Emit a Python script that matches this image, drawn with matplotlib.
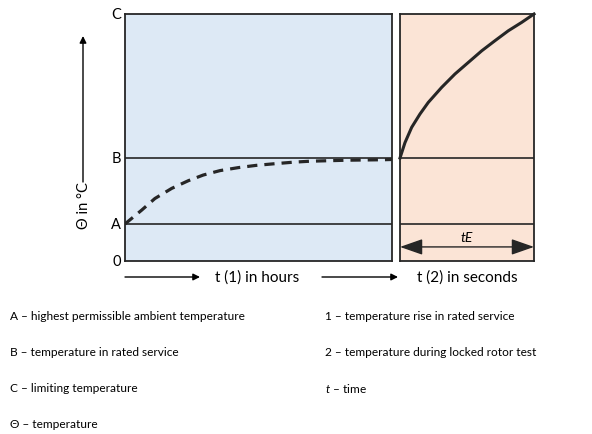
import matplotlib.pyplot as plt

# Temperature levels (relative scale, C = 100)
levels = {"0": 0, "A": 15, "B": 41.7, "C": 100}

# curve 1: temperature rise in rated service (fraction of hours axis)
t1 = [0.0, 0.0625, 0.112, 0.175, 0.237, 0.293, 0.356, 0.424, 0.49,
      0.562, 0.630, 0.693, 0.761, 0.830, 0.899, 0.967, 1.0]
theta1 = [15, 20.6, 25.3, 29.4, 32.5, 34.8, 36.6, 37.8, 38.7,
          39.4, 40.0, 40.4, 40.6, 40.8, 40.9, 41.0, 41.1]

# curve 2: temperature during locked rotor test (fraction of seconds axis)
t2 = [0.0, 0.037, 0.087, 0.149, 0.211, 0.311, 0.41, 0.51, 0.61,
      0.709, 0.808, 0.908, 1.0]
theta2 = [41.7, 47.9, 54.1, 59.5, 64.2, 70.3, 75.7, 80.4, 85.1,
          89.2, 93.2, 96.6, 100]

legend_left = ["A – highest permissible ambient temperature",
               "B – temperature in rated service",
               "C – limiting temperature",
               "Θ – temperature"]
legend_right = ["1 – temperature rise in rated service",
                "2 – temperature during locked rotor test",
                "$t$ – time"]

W, H = 592, 435
plt.rcParams['font.family'] = ['Lato', 'DejaVu Sans']
plt.rcParams['mathtext.fontset'] = 'custom'
plt.rcParams['mathtext.it'] = 'Lato:italic'
fig = plt.figure(figsize=(W / 100, H / 100), dpi=100)

line_col = '#262626'
bottom, top = 262, 15

def px_axes(x0, x1):
    return fig.add_axes([x0 / W, 1 - bottom / H, (x1 - x0) / W, (bottom - top) / H])

ax1 = px_axes(125, 392)
ax2 = px_axes(400, 534)

for ax, bg in [(ax1, '#DDE9F5'), (ax2, '#FBE4D6')]:
    ax.set_facecolor(bg)
    ax.set_xlim(0, 1)
    ax.set_ylim(0, 100)
    ax.set_xticks([])
    ax.set_yticks([])
    for s in ax.spines.values():
        s.set_color(line_col)
        s.set_linewidth(1.3)
    ax.axhline(levels["A"], color=line_col, lw=1.2)
    ax.axhline(levels["B"], color=line_col, lw=1.2)

ax1.plot(t1, theta1, color=line_col, lw=2.3, ls=(0, (3.2, 2.2)), solid_joinstyle='round')
ax2.plot(t2, theta2, color=line_col, lw=2.2, solid_joinstyle='round', clip_on=False)
ax2.annotate('', xy=(0, 5.7), xytext=(1, 5.7),
             arrowprops=dict(arrowstyle='<|-|>,head_length=1.0,head_width=0.35',
                             color=line_col, lw=1, mutation_scale=14,
                             shrinkA=0, shrinkB=0))
ax2.text(0.5, 7.2, 'tE', style='italic', ha='center', va='bottom', fontsize=10)

for name, v in levels.items():
    ax1.text(-0.015, v, name, ha='right', va='center', fontsize=10.5)

# y axis arrow and label
fig.add_artist(plt.Annotation('', xy=(83 / W, 1 - 37 / H), xytext=(83 / W, 1 - 183 / H),
                              xycoords='figure fraction', textcoords='figure fraction',
                              arrowprops=dict(arrowstyle='-|>', color='black', lw=1,
                                              mutation_scale=10, shrinkA=0, shrinkB=0)))
fig.text(84 / W, 1 - 206 / H, 'Θ in °C', rotation=90, ha='center', va='center', fontsize=10.5)

# x axis arrows and labels
for x0, x1 in [(125, 200), (322, 398)]:
    fig.add_artist(plt.Annotation('', xy=(x1 / W, 1 - 278 / H), xytext=(x0 / W, 1 - 278 / H),
                                  xycoords='figure fraction', textcoords='figure fraction',
                                  arrowprops=dict(arrowstyle='-|>', color='black', lw=1,
                                                  mutation_scale=10, shrinkA=0, shrinkB=0)))
fig.text(257 / W, 1 - 278 / H, 't (1) in hours', ha='center', va='center', fontsize=11)
fig.text(467 / W, 1 - 278 / H, 't (2) in seconds', ha='center', va='center', fontsize=11)

rows = [317, 353, 389, 425]
for y, s in zip(rows, legend_left):
    fig.text(10 / W, 1 - y / H, s, ha='left', va='center', fontsize=8.6)
for y, s in zip(rows, legend_right):
    fig.text(325 / W, 1 - y / H, s, ha='left', va='center', fontsize=8.6)

fig.savefig('out.png', dpi=100, facecolor='white')
